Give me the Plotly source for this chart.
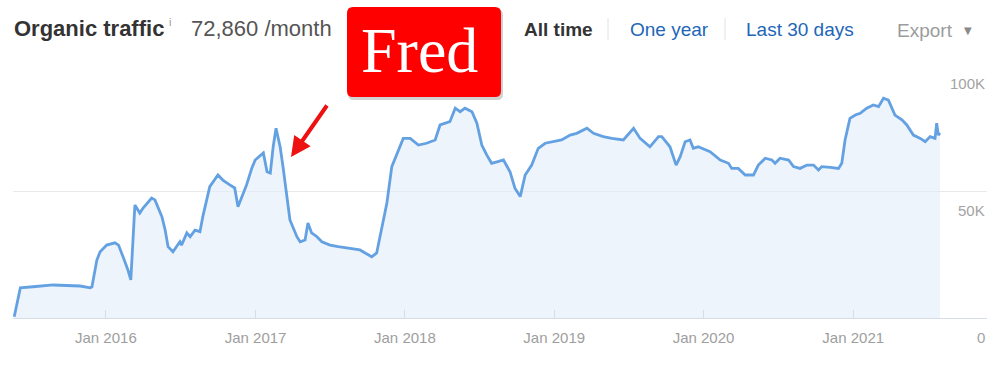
import plotly.graph_objects as go

# ---------------- data ----------------
dates = [
    "2015-05-22", "2015-06-06", "2015-07-07", "2015-08-25", "2015-10-30", "2015-11-24", "2015-11-28",
    "2015-12-10", "2015-12-18", "2016-01-03", "2016-01-23", "2016-02-01", "2016-02-12", "2016-02-24",
    "2016-03-02", "2016-03-07", "2016-03-12", "2016-03-24", "2016-04-01", "2016-04-22", "2016-04-30",
    "2016-05-17", "2016-05-25", "2016-06-01", "2016-06-13", "2016-06-30", "2016-07-04", "2016-07-17",
    "2016-07-25", "2016-08-06", "2016-08-18", "2016-08-25", "2016-09-11", "2016-10-01", "2016-10-13",
    "2016-10-30", "2016-11-11", "2016-11-19", "2016-11-28", "2016-12-10", "2016-12-23", "2016-12-31",
    "2017-01-20", "2017-01-29", "2017-02-06", "2017-02-13", "2017-02-20", "2017-03-02", "2017-03-09",
    "2017-03-16", "2017-03-26", "2017-04-12", "2017-04-20", "2017-05-02", "2017-05-09", "2017-05-18",
    "2017-05-31", "2017-06-12", "2017-07-02", "2017-07-22", "2017-08-20", "2017-09-13", "2017-09-26",
    "2017-10-12", "2017-10-24", "2017-11-05", "2017-11-18", "2017-11-30", "2017-12-12", "2017-12-28",
    "2018-01-14", "2018-02-03", "2018-02-23", "2018-03-16", "2018-03-28", "2018-04-21", "2018-05-04",
    "2018-05-16", "2018-05-28", "2018-06-14", "2018-06-26", "2018-07-08", "2018-07-20", "2018-08-01",
    "2018-08-14", "2018-08-30", "2018-09-15", "2018-09-27", "2018-10-10", "2018-10-22", "2018-11-07",
    "2018-11-23", "2018-12-10", "2018-12-30", "2019-01-19", "2019-02-09", "2019-02-25", "2019-03-22",
    "2019-04-07", "2019-05-01", "2019-05-22", "2019-06-19", "2019-07-14", "2019-07-30", "2019-08-23",
    "2019-09-13", "2019-09-21", "2019-10-11", "2019-10-26", "2019-11-05", "2019-11-17", "2019-11-29",
    "2019-12-07", "2019-12-19", "2020-01-17", "2020-02-11", "2020-03-02", "2020-03-10", "2020-03-26",
    "2020-04-12", "2020-05-02", "2020-05-14", "2020-05-31", "2020-06-16", "2020-06-24", "2020-07-06",
    "2020-07-27", "2020-08-08", "2020-08-24", "2020-09-10", "2020-09-26", "2020-10-08", "2020-10-16",
    "2020-11-06", "2020-11-26", "2020-12-04", "2020-12-12", "2020-12-24", "2021-01-06", "2021-01-18",
    "2021-02-03", "2021-02-19", "2021-03-04", "2021-03-16", "2021-03-28", "2021-04-13", "2021-04-30",
    "2021-05-12", "2021-05-28", "2021-06-14", "2021-06-26", "2021-07-08", "2021-07-20", "2021-07-24",
    "2021-07-28", "2021-08-01",
]
traffic = [
    500, 11900, 12300, 13000, 12600, 11900, 12300,
    22800, 26100, 28700, 29600, 28700, 24100, 18900,
    15000, 30700, 44500, 41300, 43300, 47200, 46500,
    39900, 34600, 28100, 26100, 30000, 28700, 33500,
    32000, 34600, 34000, 39900, 51700, 56300, 54300,
    52400, 51200, 43800, 47800, 52400, 59100, 62200,
    65000, 57600, 57100, 67400, 74700, 67400, 59600,
    51700, 38600, 32000, 30000, 30700, 37400, 33500,
    32000, 30000, 28700, 28100, 27400, 26800, 25600,
    24100, 25600, 34600, 45300, 59600, 64200, 70700,
    70700, 68100, 68800, 70100, 76000, 77300, 82600,
    81200, 82600, 81200, 76700, 68100, 64200, 60900,
    61500, 62200, 57600, 51100, 47800, 56300, 60200,
    66800, 68800, 69400, 70100, 72000, 72700, 74700,
    72700, 71400, 70700, 70100, 74700, 70700, 67400,
    71400, 71400, 67400, 60200, 63500, 69400, 70100,
    66800, 67400, 65500, 62200, 60900, 58900, 58900,
    56300, 56300, 60200, 62900, 62200, 60900, 62900,
    62200, 59600, 58900, 60200, 60200, 58300, 59600,
    59300, 58900, 60900, 70100, 78600, 79900, 80600,
    82600, 83900, 83200, 86500, 85800, 79900, 78000,
    76000, 72000, 70700, 69400, 71400, 70700, 76700,
    72000, 72900,
]
x_tick_vals = ["2016-01-01", "2017-01-01", "2018-01-01", "2019-01-01", "2020-01-01", "2021-01-01"]
x_tick_text = ["Jan 2016", "Jan 2017", "Jan 2018", "Jan 2019", "Jan 2020", "Jan 2021"]
y_tick_vals = [0, 50000, 100000]
y_tick_text = ["0", "50K", "100K"]
x_range = ["2015-05-19", "2021-11-24"]

# ---------------- layout helpers (pixel -> paper) ----------------
W, H = 1008, 370
L, R, T, B = 13, 987, 64, 318


def px(x):
    return (x - L) / (R - L)


def py(y):
    return (B - y) / (B - T)


def rounded_rect(x0, y0, x1, y1, r):
    rx, ry = r / (R - L), r / (B - T)
    a, b = px(x0), px(x1)
    top, bot = py(y0), py(y1)
    return (f"M {a+rx},{top} L {b-rx},{top} Q {b},{top} {b},{top-ry} "
            f"L {b},{bot+ry} Q {b},{bot} {b-rx},{bot} L {a+rx},{bot} "
            f"Q {a},{bot} {a},{bot+ry} L {a},{top-ry} Q {a},{top} {a+rx},{top} Z")


FONT = "Liberation Sans, Arial, sans-serif"

fig = go.Figure()
fig.add_trace(go.Scatter(
    x=dates, y=traffic, mode="lines",
    line=dict(color="#63a1e2", width=2.8),
    fill="tozeroy", fillcolor="rgba(226,236,249,0.6)",
    hoverinfo="skip", showlegend=False,
))

annotations = []
# header
annotations.append(dict(x=px(12), y=py(28), xref="paper", yref="paper", xanchor="left", yanchor="middle",
                        text="<b>Organic traffic</b>", showarrow=False,
                        font=dict(family=FONT, size=22, color="#333333")))
annotations.append(dict(x=px(167), y=py(22), xref="paper", yref="paper", xanchor="left", yanchor="middle",
                        text="i", showarrow=False, font=dict(family=FONT, size=11, color="#9a9a9a")))
annotations.append(dict(x=px(189), y=py(28), xref="paper", yref="paper", xanchor="left", yanchor="middle",
                        text="72,860 /month", showarrow=False,
                        font=dict(family=FONT, size=22, color="#555555")))
annotations.append(dict(x=px(522), y=py(29), xref="paper", yref="paper", xanchor="left", yanchor="middle",
                        text="<b>All time</b>", showarrow=False, font=dict(family=FONT, size=19, color="#333333")))
annotations.append(dict(x=px(628), y=py(29), xref="paper", yref="paper", xanchor="left", yanchor="middle",
                        text="One year", showarrow=False, font=dict(family=FONT, size=19, color="#2266b8")))
annotations.append(dict(x=px(744), y=py(29), xref="paper", yref="paper", xanchor="left", yanchor="middle",
                        text="Last 30 days", showarrow=False, font=dict(family=FONT, size=19, color="#2266b8")))
annotations.append(dict(x=px(895), y=py(30), xref="paper", yref="paper", xanchor="left", yanchor="middle",
                        text="Export", showarrow=False, font=dict(family=FONT, size=19, color="#9c9c9c")))
annotations.append(dict(x=px(968), y=py(30), xref="paper", yref="paper", xanchor="center", yanchor="middle",
                        text="▼", showarrow=False, font=dict(family="DejaVu Sans", size=10, color="#8a8a8a")))

# y tick labels (placed below their gridlines, right-aligned)
for v, t in zip(y_tick_vals, y_tick_text):
    annotations.append(dict(x=1, y=v, xref="paper", yref="y", xanchor="right", yanchor="middle",
                            yshift=-19, text=t, showarrow=False,
                            font=dict(family=FONT, size=15, color="#a3a3a3")))

# Fred label
annotations.append(dict(x=px(419), y=py(50), xref="paper", yref="paper", xanchor="center", yanchor="middle",
                        text="Fred", showarrow=False,
                        font=dict(family="Liberation Serif, Times New Roman, serif", size=64, color="#ffffff")))
# red arrow
annotations.append(dict(x=px(291), y=py(157), xref="paper", yref="paper", text="", showarrow=True,
                        ax=37, ay=-53, axref="pixel", ayref="pixel",
                        arrowcolor="#ee1111", arrowwidth=4, arrowhead=2, arrowsize=1.0, standoff=0))

shapes = [
    # separators in header
    dict(type="line", xref="paper", yref="paper", x0=px(608), x1=px(608), y0=py(18), y1=py(40),
         line=dict(color="#e2e2e2", width=1)),
    dict(type="line", xref="paper", yref="paper", x0=px(725), x1=px(725), y0=py(18), y1=py(40),
         line=dict(color="#e2e2e2", width=1)),
    # box shadow and red box
    dict(type="path", xref="paper", yref="paper", path=rounded_rect(348, 9, 503, 100, 6),
         fillcolor="rgba(0,0,0,0.18)", line=dict(width=0), layer="above"),
    dict(type="path", xref="paper", yref="paper", path=rounded_rect(347, 7, 501, 97, 6),
         fillcolor="#ff0000", line=dict(width=0), layer="above"),
]

fig.update_layout(
    width=W, height=H,
    margin=dict(l=L, r=W - R, t=T, b=H - B, pad=0),
    paper_bgcolor="#ffffff", plot_bgcolor="#ffffff",
    showlegend=False,
    annotations=annotations,
    shapes=shapes,
    xaxis=dict(
        type="date", range=x_range, tickvals=x_tick_vals, ticktext=x_tick_text,
        ticks="inside", ticklen=8, tickcolor="#d6dde6", tickwidth=1,
        showgrid=False, zeroline=False, showline=True, linecolor="#d6dde6", linewidth=1,
        tickfont=dict(family=FONT, size=15, color="#9e9e9e"), ticklabelstandoff=6,
        fixedrange=True,
    ),
    yaxis=dict(
        range=[0, 100000], tickvals=y_tick_vals, showticklabels=False,
        showgrid=True, gridcolor="#e8e8e8", gridwidth=1, zeroline=False,
        fixedrange=True,
    ),
)

fig.write_html("out.html")
